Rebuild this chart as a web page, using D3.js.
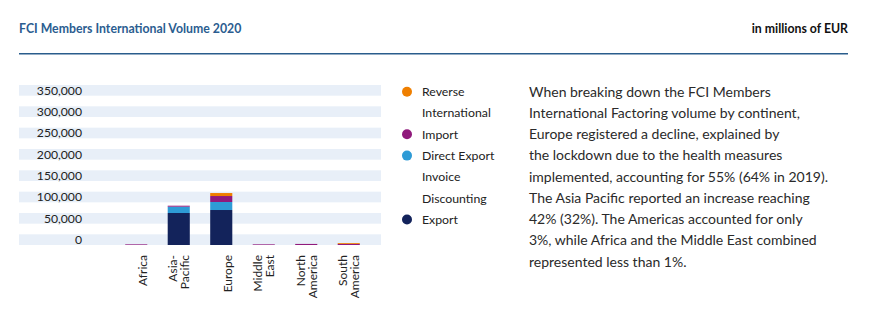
<!DOCTYPE html>
<html>
<head>
<meta charset="utf-8">
<script src="https://cdn.jsdelivr.net/npm/d3@7"></script>
<style>
  html, body { margin: 0; padding: 0; background: #fff; }
  svg { display: block; font-family: Lato, "Open Sans", sans-serif; }
</style>
</head>
<body>
<svg id="chart" width="884" height="330"></svg>
<script>
// ---- Data ----
const categories = ["Africa", "Asia-Pacific", "Europe", "Middle East", "North America", "South America"];
const categoryLabels = [["Africa"], ["Asia-", "Pacific"], ["Europe"], ["Middle", "East"], ["North", "America"], ["South", "America"]];
const exportVol = [0, 75000, 82000, 0, 0, 0];
const directExportVol = [0, 14800, 18800, 0, 0, 0];
const importVol = [1500, 2300, 14000, 1500, 2500, 2500];
const reverseVol = [0, 0, 7000, 0, 0, 2000];
const yTicks = [0, 50000, 100000, 150000, 200000, 250000, 300000, 350000];
const seriesKeys = ["export", "directExport", "import", "reverse"];
const seriesColors = ["#13235b", "#2e9bd6", "#901a7c", "#ef7f00"];
const legendItems = [
  { key: "reverse", lines: ["Reverse", "International"] },
  { key: "import", lines: ["Import"] },
  { key: "directExport", lines: ["Direct Export", "Invoice", "Discounting"] },
  { key: "export", lines: ["Export"] }
];
const titleText = "FCI Members International Volume 2020";
const unitText = "in millions of EUR";
const paragraph = [
  "When breaking down the FCI Members",
  "International Factoring volume by continent,",
  "Europe registered a decline, explained by",
  "the lockdown due to the health measures",
  "implemented, accounting for 55% (64% in 2019).",
  "The Asia Pacific reported an increase reaching",
  "42% (32%). The Americas accounted for only",
  "3%, while Africa and the Middle East combined",
  "represented less than 1%."
];

// ---- Build table ----
const table = categories.map((c, i) => ({
  category: c,
  export: exportVol[i],
  directExport: directExportVol[i],
  import: importVol[i],
  reverse: reverseVol[i]
}));

const svg = d3.select("#chart");
const color = d3.scaleOrdinal().domain(seriesKeys).range(seriesColors);

// Header
svg.append("text").attr("x", 19).attr("y", 32.5)
  .attr("font-size", 12.3).attr("font-weight", 700).attr("fill", "#2b5d90")
  .text(titleText);
svg.append("text").attr("x", 848).attr("y", 32.5).attr("text-anchor", "end")
  .attr("font-size", 12.3).attr("font-weight", 700).attr("fill", "#111")
  .text(unitText);
svg.append("line").attr("x1", 19).attr("x2", 848).attr("y1", 53.7).attr("y2", 53.7)
  .attr("stroke", "#2a5d8c").attr("stroke-width", 1.5);

// Scales
const y = d3.scaleLinear().domain([0, 375000]).range([245, 85]);
const x = d3.scaleBand().domain(categories).range([115, 370]).paddingInner(0.48).paddingOuter(0.24);

// Bands
const bandHalf = 25000;
svg.append("g").selectAll("rect").data(yTicks).join("rect")
  .attr("x", 19).attr("width", 362)
  .attr("y", d => y(d + bandHalf)).attr("height", d => y(d) - y(d + bandHalf))
  .attr("fill", "#e8eff8");

// Y axis labels via d3 axis
const yAxis = d3.axisLeft(y).tickValues(yTicks).tickFormat(d3.format(",")).tickSize(0).tickPadding(0);
const yg = svg.append("g").attr("transform", `translate(82, ${y(bandHalf / 2) - y(0)})`).call(yAxis);
yg.select(".domain").remove();
yg.selectAll("text").attr("font-size", 12.2).attr("fill", "#222").attr("font-family", "Lato, sans-serif");

// Stacked bars
const stacked = d3.stack().keys(seriesKeys)(table);
svg.append("g").selectAll("g").data(stacked).join("g")
  .attr("fill", d => color(d.key))
  .selectAll("rect").data(d => d).join("rect")
  .attr("x", d => x(d.data.category))
  .attr("width", x.bandwidth())
  .attr("y", d => y(d[1]))
  .attr("height", d => y(d[0]) - y(d[1]));

// X axis labels (rotated)
const lineH = 12;
const xl = svg.append("g").selectAll("g").data(categories).join("g")
  .attr("transform", d => `translate(${x(d) + x.bandwidth() / 2 + 10.5}, 255) rotate(-90)`);
xl.each(function(d, i) {
  const lines = categoryLabels[i];
  const n = lines.length;
  d3.select(this).selectAll("text").data(lines).join("text")
    .attr("x", 0).attr("y", (t, j) => -(n - 1 - j) * lineH)
    .attr("text-anchor", "end").attr("font-size", 12).attr("fill", "#222")
    .text(t => t);
});

// Legend
let row = 0;
const lg = svg.append("g");
legendItems.forEach(item => {
  const cy = 91.7 + row * 21.3;
  lg.append("circle").attr("cx", 407).attr("cy", cy).attr("r", 5).attr("fill", color(item.key));
  item.lines.forEach((t, j) => {
    lg.append("text").attr("x", 422).attr("y", 91.7 + (row + j) * 21.3).attr("dy", "0.35em")
      .attr("font-size", 12.3).attr("fill", "#222").text(t);
  });
  row += item.lines.length;
});

// Paragraph
svg.append("g").selectAll("text").data(paragraph).join("text")
  .attr("x", 529).attr("y", (d, i) => 91.7 + i * 21.25).attr("dy", "0.35em")
  .attr("font-size", 14).attr("fill", "#2a2a2a").text(d => d);
</script>
</body>
</html>
